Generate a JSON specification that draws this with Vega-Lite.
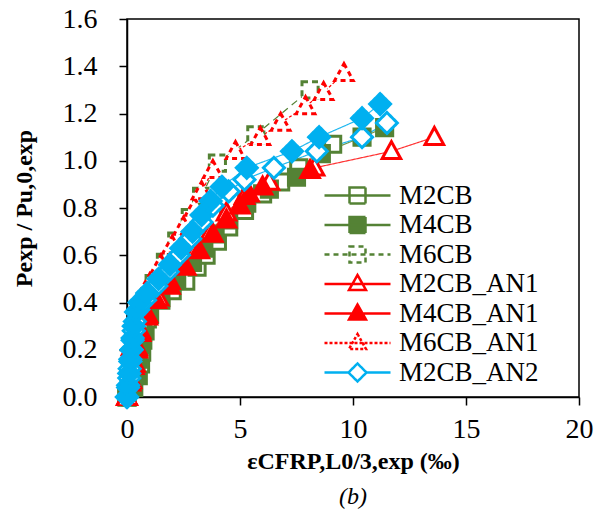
{
  "$schema": "https://vega.github.io/schema/vega-lite/v6.json",
  "width": 452,
  "height": 378,
  "padding": {"left": 12, "top": 5, "right": 5, "bottom": 5},
  "background": "white",
  "title": {"text": "(b)", "orient": "bottom", "font": "Liberation Serif", "fontStyle": "italic", "fontWeight": "normal", "fontSize": 24, "color": "black", "offset": 12, "anchor": "middle"},
  "data": {"values": [
    {"s":"M2CB","x":0,"y":0},{"s":"M2CB","x":0.3,"y":0.04},{"s":"M2CB","x":0.5,"y":0.09},{"s":"M2CB","x":0.6,"y":0.14},{"s":"M2CB","x":0.65,"y":0.19},{"s":"M2CB","x":0.7,"y":0.24},{"s":"M2CB","x":0.8,"y":0.28},{"s":"M2CB","x":0.9,"y":0.33},{"s":"M2CB","x":1.5,"y":0.41},{"s":"M2CB","x":2.0,"y":0.45},{"s":"M2CB","x":2.6,"y":0.49},{"s":"M2CB","x":3.1,"y":0.55},{"s":"M2CB","x":3.5,"y":0.6},{"s":"M2CB","x":4.0,"y":0.66},{"s":"M2CB","x":4.5,"y":0.72},{"s":"M2CB","x":5.2,"y":0.79},{"s":"M2CB","x":6.0,"y":0.86},{"s":"M2CB","x":6.8,"y":0.91},{"s":"M2CB","x":7.6,"y":0.97},{"s":"M2CB","x":9.1,"y":1.07},
    {"s":"M4CB","x":0,"y":0},{"s":"M4CB","x":0.2,"y":0.05},{"s":"M4CB","x":0.4,"y":0.1},{"s":"M4CB","x":0.5,"y":0.16},{"s":"M4CB","x":0.6,"y":0.22},{"s":"M4CB","x":0.7,"y":0.28},{"s":"M4CB","x":1.0,"y":0.35},{"s":"M4CB","x":1.5,"y":0.42},{"s":"M4CB","x":2.2,"y":0.5},{"s":"M4CB","x":2.9,"y":0.57},{"s":"M4CB","x":3.4,"y":0.63},{"s":"M4CB","x":3.9,"y":0.69},{"s":"M4CB","x":4.5,"y":0.75},{"s":"M4CB","x":5.3,"y":0.82},{"s":"M4CB","x":6.3,"y":0.88},{"s":"M4CB","x":7.5,"y":0.93},{"s":"M4CB","x":8.6,"y":1.03},{"s":"M4CB","x":10.4,"y":1.1},{"s":"M4CB","x":11.4,"y":1.14},
    {"s":"M6CB","x":0,"y":0},{"s":"M6CB","x":0.1,"y":0.08},{"s":"M6CB","x":0.2,"y":0.16},{"s":"M6CB","x":0.3,"y":0.24},{"s":"M6CB","x":0.5,"y":0.32},{"s":"M6CB","x":0.8,"y":0.4},{"s":"M6CB","x":1.2,"y":0.48},{"s":"M6CB","x":1.7,"y":0.57},{"s":"M6CB","x":2.2,"y":0.66},{"s":"M6CB","x":2.8,"y":0.76},{"s":"M6CB","x":3.3,"y":0.85},{"s":"M6CB","x":4.0,"y":0.99},{"s":"M6CB","x":5.7,"y":1.11},{"s":"M6CB","x":8.1,"y":1.3},
    {"s":"M2CB_AN1","x":0,"y":0},{"s":"M2CB_AN1","x":0.2,"y":0.07},{"s":"M2CB_AN1","x":0.35,"y":0.14},{"s":"M2CB_AN1","x":0.45,"y":0.21},{"s":"M2CB_AN1","x":0.6,"y":0.28},{"s":"M2CB_AN1","x":0.9,"y":0.35},{"s":"M2CB_AN1","x":1.4,"y":0.42},{"s":"M2CB_AN1","x":1.9,"y":0.49},{"s":"M2CB_AN1","x":2.5,"y":0.56},{"s":"M2CB_AN1","x":3.1,"y":0.63},{"s":"M2CB_AN1","x":3.7,"y":0.7},{"s":"M2CB_AN1","x":4.4,"y":0.78},{"s":"M2CB_AN1","x":5.2,"y":0.85},{"s":"M2CB_AN1","x":6.3,"y":0.91},{"s":"M2CB_AN1","x":8.3,"y":0.97},{"s":"M2CB_AN1","x":11.7,"y":1.04},{"s":"M2CB_AN1","x":13.6,"y":1.1},
    {"s":"M4CB_AN1","x":0,"y":0},{"s":"M4CB_AN1","x":0.15,"y":0.06},{"s":"M4CB_AN1","x":0.3,"y":0.13},{"s":"M4CB_AN1","x":0.45,"y":0.2},{"s":"M4CB_AN1","x":0.6,"y":0.27},{"s":"M4CB_AN1","x":0.9,"y":0.34},{"s":"M4CB_AN1","x":1.3,"y":0.41},{"s":"M4CB_AN1","x":1.9,"y":0.47},{"s":"M4CB_AN1","x":2.6,"y":0.55},{"s":"M4CB_AN1","x":3.2,"y":0.62},{"s":"M4CB_AN1","x":3.8,"y":0.69},{"s":"M4CB_AN1","x":4.4,"y":0.75},{"s":"M4CB_AN1","x":5.0,"y":0.81},{"s":"M4CB_AN1","x":5.4,"y":0.86},{"s":"M4CB_AN1","x":6.0,"y":0.89},{"s":"M4CB_AN1","x":8.1,"y":0.96},
    {"s":"M6CB_AN1","x":0,"y":0},{"s":"M6CB_AN1","x":0.1,"y":0.07},{"s":"M6CB_AN1","x":0.15,"y":0.14},{"s":"M6CB_AN1","x":0.2,"y":0.21},{"s":"M6CB_AN1","x":0.3,"y":0.28},{"s":"M6CB_AN1","x":0.4,"y":0.35},{"s":"M6CB_AN1","x":0.6,"y":0.41},{"s":"M6CB_AN1","x":1.0,"y":0.48},{"s":"M6CB_AN1","x":1.5,"y":0.56},{"s":"M6CB_AN1","x":2.0,"y":0.64},{"s":"M6CB_AN1","x":2.5,"y":0.72},{"s":"M6CB_AN1","x":3.0,"y":0.8},{"s":"M6CB_AN1","x":3.3,"y":0.87},{"s":"M6CB_AN1","x":3.8,"y":0.96},{"s":"M6CB_AN1","x":4.8,"y":1.04},{"s":"M6CB_AN1","x":5.9,"y":1.1},{"s":"M6CB_AN1","x":6.8,"y":1.16},{"s":"M6CB_AN1","x":7.9,"y":1.23},{"s":"M6CB_AN1","x":8.7,"y":1.29},{"s":"M6CB_AN1","x":9.6,"y":1.37},
    {"s":"M2CB_AN2","x":0,"y":0},{"s":"M2CB_AN2","x":0.05,"y":0.04},{"s":"M2CB_AN2","x":0.1,"y":0.08},{"s":"M2CB_AN2","x":0.12,"y":0.12},{"s":"M2CB_AN2","x":0.15,"y":0.16},{"s":"M2CB_AN2","x":0.2,"y":0.2},{"s":"M2CB_AN2","x":0.25,"y":0.24},{"s":"M2CB_AN2","x":0.3,"y":0.28},{"s":"M2CB_AN2","x":0.35,"y":0.32},{"s":"M2CB_AN2","x":0.5,"y":0.37},{"s":"M2CB_AN2","x":0.8,"y":0.41},{"s":"M2CB_AN2","x":1.3,"y":0.47},{"s":"M2CB_AN2","x":1.8,"y":0.53},{"s":"M2CB_AN2","x":2.3,"y":0.6},{"s":"M2CB_AN2","x":2.8,"y":0.67},{"s":"M2CB_AN2","x":3.3,"y":0.74},{"s":"M2CB_AN2","x":3.8,"y":0.81},{"s":"M2CB_AN2","x":4.5,"y":0.87},{"s":"M2CB_AN2","x":5.2,"y":0.92},{"s":"M2CB_AN2","x":6.5,"y":0.97},{"s":"M2CB_AN2","x":8.4,"y":1.04},{"s":"M2CB_AN2","x":10.4,"y":1.1},{"s":"M2CB_AN2","x":11.5,"y":1.16},
    {"s":"M4CB_AN2","x":0,"y":0},{"s":"M4CB_AN2","x":0.05,"y":0.05},{"s":"M4CB_AN2","x":0.1,"y":0.1},{"s":"M4CB_AN2","x":0.15,"y":0.15},{"s":"M4CB_AN2","x":0.2,"y":0.2},{"s":"M4CB_AN2","x":0.25,"y":0.25},{"s":"M4CB_AN2","x":0.3,"y":0.3},{"s":"M4CB_AN2","x":0.4,"y":0.36},{"s":"M4CB_AN2","x":0.55,"y":0.4},{"s":"M4CB_AN2","x":0.9,"y":0.44},{"s":"M4CB_AN2","x":1.4,"y":0.5},{"s":"M4CB_AN2","x":1.9,"y":0.56},{"s":"M4CB_AN2","x":2.4,"y":0.63},{"s":"M4CB_AN2","x":2.9,"y":0.7},{"s":"M4CB_AN2","x":3.3,"y":0.77},{"s":"M4CB_AN2","x":3.7,"y":0.83},{"s":"M4CB_AN2","x":4.2,"y":0.89},{"s":"M4CB_AN2","x":5.3,"y":0.97},{"s":"M4CB_AN2","x":7.3,"y":1.04},{"s":"M4CB_AN2","x":8.5,"y":1.1},{"s":"M4CB_AN2","x":10.4,"y":1.18},{"s":"M4CB_AN2","x":11.2,"y":1.24}
  ]},
  "encoding": {
    "x": {"field": "x", "type": "quantitative", "scale": {"domain": [0, 20], "nice": false, "zero": false},
      "axis": {"values": [0, 5, 10, 15, 20], "tickSize": 8, "labelPadding": 10, "title": "εCFRP,L0/3,exp (‰)", "titleFontSize": 24, "titleFontWeight": "bold", "titlePadding": 6, "labelFlush": false}},
    "y": {"field": "y", "type": "quantitative", "scale": {"domain": [0, 1.6], "nice": false},
      "axis": {"values": [0, 0.2, 0.4, 0.6, 0.8, 1.0, 1.2, 1.4, 1.6], "format": ".1f", "tickSize": 8, "labelPadding": 22, "title": "Pexp / Pu,0,exp", "titleFontSize": 24, "titleFontWeight": "bold", "titlePadding": 26, "labelFlush": false}}
  },
  "layer": [
    {
      "mark": {"type": "line", "strokeWidth": 1.2, "clip": false},
      "encoding": {
        "detail": {"field": "s"},
        "color": {"field": "s", "type": "nominal", "legend": null,
          "scale": {"domain": ["M2CB","M4CB","M6CB","M2CB_AN1","M4CB_AN1","M6CB_AN1","M2CB_AN2","M4CB_AN2"],
                    "range": ["#6E9A4E","#6E9A4E","#548235","#FF3333","#FF3333","#FF0000","#22B8F0","#22B8F0"]}},
        "strokeDash": {"field": "s", "type": "nominal", "legend": null,
          "scale": {"domain": ["M2CB","M4CB","M6CB","M2CB_AN1","M4CB_AN1","M6CB_AN1","M2CB_AN2","M4CB_AN2"],
                    "range": [[1,0],[1,0],[7,5],[1,0],[1,0],[3,2],[1,0],[1,0]]}}
      }
    },
    {
      "mark": {"type": "point", "size": 260, "strokeWidth": 3, "opacity": 1, "clip": false},
      "encoding": {
        "stroke": {"field": "s", "type": "nominal", "legend": null,
          "scale": {"domain": ["M2CB","M4CB","M6CB","M2CB_AN1","M4CB_AN1","M6CB_AN1","M2CB_AN2","M4CB_AN2"],
                    "range": ["#548235","#548235","#548235","#FF0000","#FF0000","#FF0000","#00B0F0","#00B0F0"]}},
        "fill": {"field": "s", "type": "nominal", "legend": null,
          "scale": {"domain": ["M2CB","M4CB","M6CB","M2CB_AN1","M4CB_AN1","M6CB_AN1","M2CB_AN2","M4CB_AN2"],
                    "range": ["#FFFFFF","#548235","#FFFFFF","#FFFFFF","#FF0000","#FFFFFF","#FFFFFF","#00B0F0"]}},
        "shape": {"field": "s", "type": "nominal", "legend": null,
          "scale": {"domain": ["M2CB","M4CB","M6CB","M2CB_AN1","M4CB_AN1","M6CB_AN1","M2CB_AN2","M4CB_AN2"],
                    "range": ["square","square","square","M0,-1.2L1.15,0.9H-1.15Z","M0,-1.2L1.15,0.9H-1.15Z","M0,-1.2L1.15,0.9H-1.15Z","M-1.3,0L0,-1.3L1.3,0L0,1.3Z","M-1.3,0L0,-1.3L1.3,0L0,1.3Z"]}},
        "strokeDash": {"field": "s", "type": "nominal", "legend": null,
          "scale": {"domain": ["M2CB","M4CB","M6CB","M2CB_AN1","M4CB_AN1","M6CB_AN1","M2CB_AN2","M4CB_AN2"],
                    "range": [[1,0],[1,0],[6,4],[1,0],[1,0],[5,4],[1,0],[1,0]]}}
      }
    },
    {
      "transform": [{"filter": "datum.x > 100"}],
      "mark": {"type": "point", "strokeWidth": 2.5, "opacity": 1},
      "encoding": {
        "stroke": {"field": "s", "type": "nominal",
          "scale": {"domain": ["M2CB","M4CB","M6CB","M2CB_AN1","M4CB_AN1","M6CB_AN1","M2CB_AN2"],
                    "range": ["#548235","#548235","#548235","#FF0000","#FF0000","#FF0000","#00B0F0"]},
          "legend": {"orient": "none", "legendX": 217, "legendY": 163, "title": null, "padding": 0, "labelFont": "Liberation Serif", "labelFontSize": 27, "labelColor": "black", "symbolSize": 100, "symbolStrokeWidth": 2.5, "rowPadding": 1.5, "labelOffset": 28, "symbolLimit": 0}},
        "fill": {"field": "s", "type": "nominal",
          "scale": {"domain": ["M2CB","M4CB","M6CB","M2CB_AN1","M4CB_AN1","M6CB_AN1","M2CB_AN2"],
                    "range": ["#FFFFFF","#548235","#FFFFFF","#FFFFFF","#FF0000","#FFFFFF","#FFFFFF"]},
          "legend": {"orient": "none", "legendX": 217, "legendY": 163, "title": null, "padding": 0, "labelFont": "Liberation Serif", "labelFontSize": 27, "labelColor": "black", "symbolSize": 100, "symbolStrokeWidth": 2.5, "rowPadding": 1.5, "labelOffset": 28, "symbolLimit": 0}},
        "shape": {"field": "s", "type": "nominal",
          "scale": {"domain": ["M2CB","M4CB","M6CB","M2CB_AN1","M4CB_AN1","M6CB_AN1","M2CB_AN2"],
                    "range": ["M-6.6,0H6.6M-1.6,-1.6H1.6V1.6H-1.6Z","M-6.6,0H6.6M-1.6,-1.6H1.6V1.6H-1.6Z","M-6.6,0H6.6M-1.6,-1.6H1.6V1.6H-1.6Z","M-6.6,0H6.6M0,-1.8L1.7,1.2H-1.7Z","M-6.6,0H6.6M0,-1.8L1.7,1.2H-1.7Z","M-6.6,0H6.6M0,-1.8L1.7,1.2H-1.7Z","M-6.6,0H-1.8M1.8,0H6.6M-1.8,0L0,-1.8L1.8,0L0,1.8Z"]},
          "legend": {"orient": "none", "legendX": 217, "legendY": 163, "title": null, "padding": 0, "labelFont": "Liberation Serif", "labelFontSize": 27, "labelColor": "black", "symbolSize": 100, "symbolStrokeWidth": 2.5, "rowPadding": 1.5, "labelOffset": 28, "symbolLimit": 0}},
        "strokeDash": {"field": "s", "type": "nominal",
          "scale": {"domain": ["M2CB","M4CB","M6CB","M2CB_AN1","M4CB_AN1","M6CB_AN1","M2CB_AN2"],
                    "range": [[1,0],[1,0],[5,4],[1,0],[1,0],[3,2],[1,0]]},
          "legend": {"orient": "none", "legendX": 217, "legendY": 163, "title": null, "padding": 0, "labelFont": "Liberation Serif", "labelFontSize": 27, "labelColor": "black", "symbolSize": 100, "symbolStrokeWidth": 2.5, "rowPadding": 1.5, "labelOffset": 28, "symbolLimit": 0}}
      }
    }
  ],
  "resolve": {"scale": {"stroke": "independent", "fill": "independent", "shape": "independent", "strokeDash": "independent", "color": "independent"}},
  "config": {
    "font": "Liberation Serif",
    "view": {"stroke": "black", "strokeWidth": 1.5},
    "axis": {"labelFont": "Liberation Serif", "labelFontSize": 28, "labelColor": "black", "domainColor": "black", "domainWidth": 1.5, "tickColor": "black", "tickWidth": 1.5, "grid": false, "titleFont": "Liberation Serif", "titleColor": "black"}
  }
}
